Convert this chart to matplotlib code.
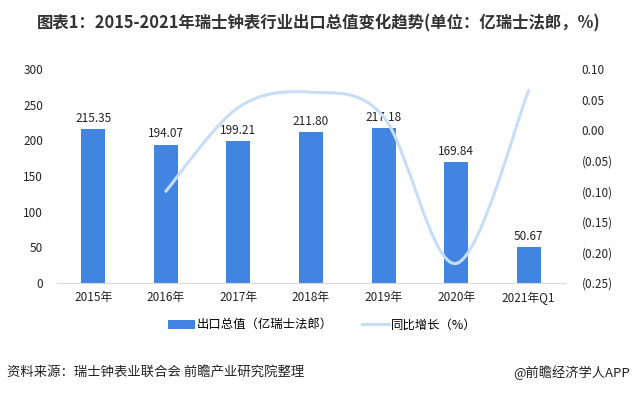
import matplotlib
matplotlib.use("Agg")
import matplotlib.pyplot as plt
import numpy as np
from matplotlib.path import Path
from matplotlib.patches import PathPatch, Patch
from matplotlib.lines import Line2D

plt.rcParams['font.family'] = ['Noto Sans CJK SC', 'DejaVu Sans']

# 数据
categories = ["2015年", "2016年", "2017年", "2018年", "2019年", "2020年", "2021年Q1"]
export_value = [215.35, 194.07, 199.21, 211.80, 217.18, 169.84, 50.67]
growth = [None, -0.100, 0.037, 0.062, 0.022, -0.218, 0.065]

left_ticks = [0, 50, 100, 150, 200, 250, 300]
right_ticks = [0.10, 0.05, 0.00, -0.05, -0.10, -0.15, -0.20, -0.25]

bar_color = "#4285E0"
line_color = "#C6DDF8"
text_color = "#222222"

fig = plt.figure(figsize=(6.32, 3.95), dpi=100)
ax = fig.add_axes([0.090, 0.2835, 0.804, 0.5418])
ax2 = ax.twinx()

x = np.arange(len(categories))
ax.bar(x, export_value, width=0.33, color=bar_color, zorder=2)
for xi, v in zip(x, export_value):
    ax.text(xi, v + 6, f"{v:.2f}", ha="center", va="bottom", fontsize=8.5, color=text_color)

ax.set_xlim(-0.5, len(categories) - 0.5)
ax.set_ylim(0, 300)
ax.set_yticks(left_ticks)
ax.set_xticks(x)
ax.set_xticklabels(categories)
ax.tick_params(axis="both", length=0, labelsize=8.5, colors=text_color)
ax.tick_params(axis="y", pad=10)
ax.tick_params(axis="x", pad=6)
for s in ["top", "left", "right"]:
    ax.spines[s].set_visible(False)
ax.spines["bottom"].set_color("#D9D9D9")

# 平滑折线（Excel 风格的贝塞尔曲线）
px = np.array([xi for xi, g in zip(x, growth) if g is not None], dtype=float)
py = np.array([g for g in growth if g is not None], dtype=float)
verts = [(px[0], py[0])]
codes = [Path.MOVETO]
n = len(px)
for i in range(n - 1):
    p0 = np.array([px[max(i - 1, 0)], py[max(i - 1, 0)]])
    p1 = np.array([px[i], py[i]])
    p2 = np.array([px[i + 1], py[i + 1]])
    p3 = np.array([px[min(i + 2, n - 1)], py[min(i + 2, n - 1)]])
    c1 = p1 + (p2 - p0) / 6
    c2 = p2 - (p3 - p1) / 6
    verts += [tuple(c1), tuple(c2), tuple(p2)]
    codes += [Path.CURVE4] * 3
ax2.add_patch(PathPatch(Path(verts, codes), facecolor="none", edgecolor=line_color,
                        lw=2.2, capstyle="round", zorder=3))

ax2.set_ylim(-0.25, 0.10)
ax2.set_yticks(right_ticks)
ax2.set_yticklabels([f"{t:.2f}" if t >= 0 else f"({abs(t):.2f})" for t in right_ticks])
ax2.tick_params(axis="y", length=0, labelsize=8.5, colors=text_color, pad=12)
for s in ["top", "left", "right", "bottom"]:
    ax2.spines[s].set_visible(False)

fig.text(0.505, 0.94, "图表1：2015-2021年瑞士钟表行业出口总值变化趋势(单位：亿瑞士法郎，%)",
         ha="center", va="center", fontsize=11.8, fontweight="bold", color="#333333")

handles = [Patch(facecolor=bar_color, edgecolor="none"),
           Line2D([0], [0], color=line_color, lw=2.2)]
fig.legend(handles, ["出口总值（亿瑞士法郎）", "同比增长（%）"], loc="center",
           bbox_to_anchor=(0.51, 0.177), ncol=2, frameon=False, fontsize=8.9,
           handlelength=2.2, handletextpad=0.15, columnspacing=2.3)

fig.text(0.011, 0.056, "资料来源：瑞士钟表业联合会 前瞻产业研究院整理", ha="left", va="center",
         fontsize=9.6, color=text_color)
fig.text(0.997, 0.056, "@前瞻经济学人APP", ha="right", va="center", fontsize=9.5, color=text_color)

fig.savefig("out.png", dpi=100)
